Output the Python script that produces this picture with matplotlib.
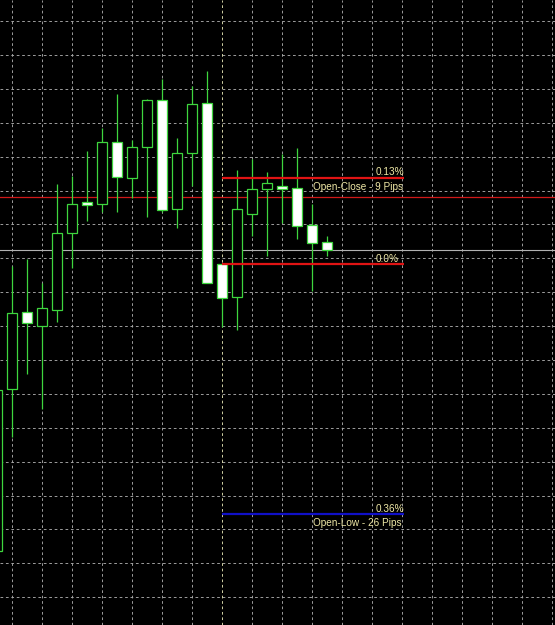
import numpy as np
import matplotlib
matplotlib.use("Agg")
import matplotlib.pyplot as plt

# OHLC, oldest first (first candle is cut by the left edge)
opens = [0.71701, 0.71870, 0.71950, 0.71936, 0.71952, 0.72033, 0.72065, 0.72063,
         0.72127, 0.72090, 0.72122, 0.72171, 0.72058, 0.72116, 0.72168, 0.72000,
         0.71966, 0.72052, 0.72078, 0.72082, 0.72080, 0.72041, 0.72023]
highs = [0.71874, 0.71998, 0.72006, 0.71980, 0.72084, 0.72092, 0.72118, 0.72142,
         0.72178, 0.72130, 0.72172, 0.72193, 0.72132, 0.72186, 0.72202, 0.72001,
         0.72098, 0.72110, 0.72096, 0.72115, 0.72121, 0.72063, 0.72029]
lows = [0.71696, 0.71820, 0.71886, 0.71849, 0.71940, 0.71996, 0.72045, 0.72055,
        0.72055, 0.72069, 0.72049, 0.72054, 0.72038, 0.72082, 0.71980, 0.71935,
        0.71931, 0.72029, 0.72009, 0.72043, 0.72026, 0.71972, 0.72009]
closes = [0.71869, 0.71949, 0.71939, 0.71954, 0.72033, 0.72063, 0.72062, 0.72127,
          0.72091, 0.72122, 0.72171, 0.72057, 0.72116, 0.72167, 0.71981, 0.71965,
          0.72058, 0.72078, 0.72085, 0.72078, 0.72040, 0.72022, 0.72015]

day_start = 15            # index of the first candle of the day
day_open = 0.72000
oc_pips = 9
ol_pips = 26
pip = 0.0001
red_line = 0.72070
pct_labels = ["0.13%", "0.0%", "0.36%"]
oc_text = "Open-Close - 9 Pips"
ol_text = "Open-Low - 26 Pips"

GREEN = "#3ed63e"
TXT = "#efe8a6"

fig = plt.figure(figsize=(5.55, 6.25), dpi=100)
fig.patch.set_facecolor("black")
ax = fig.add_axes([0, 0, 1, 1])
ax.set_facecolor("black")

y_top, y_bot = 0.722755, 0.716240
ax.set_ylim(y_bot, y_top)
ax.set_xlim(0.22, 37.22)

# grid, like the terminal's dotted grid
rng = y_top - y_bot
gy = y_top - rng * (21 + 33.9 * np.arange(18)) / 625
for g in gy:
    ax.axhline(g, color="#a8a8a8", lw=0.65, ls=(0, (3, 3)), zorder=0)
for gx in range(1, 38, 2):
    c = "#e0e0b0" if gx == day_start else "#a8a8a8"
    ax.axvline(gx, color=c, lw=0.65, ls=(0, (3, 3)), zorder=0)

# full width horizontal lines
ax.axhline(red_line, color="#d01818", lw=0.9, zorder=1)
ax.axhline(closes[-1], color="#b0b0b0", lw=0.8, zorder=1)

# candles
x = np.arange(len(opens))
o = np.array(opens); c = np.array(closes)
ax.vlines(x, lows, highs, color=GREEN, lw=0.9, zorder=2)
bull = c >= o
bottom = np.minimum(o, c)
height = np.maximum(np.abs(c - o), 0.000025)
ax.bar(x[bull], height[bull], bottom=bottom[bull], width=0.66,
       facecolor="black", edgecolor=GREEN, linewidth=0.9, zorder=3)
ax.bar(x[~bull], height[~bull], bottom=bottom[~bull], width=0.66,
       facecolor="white", edgecolor=GREEN, linewidth=0.9, zorder=3)

# open/close/low levels of the day
x0, x1 = day_start, 27.15
lv_oc = day_open + oc_pips * pip
lv_ol = day_open - ol_pips * pip
ax.hlines([lv_oc, day_open], x0, x1, color="#e01414", lw=1.6, zorder=4)
ax.hlines(lv_ol, x0, x1, color="#1010c8", lw=1.6, zorder=4)

fnt = dict(family=["Liberation Sans", "DejaVu Sans"], fontsize=7.2, color=TXT, zorder=5)
xp, xd = 25.29, 21.09     # left edges of the percent and description labels
ax.annotate(pct_labels[0], (xp, lv_oc), xytext=(0, 1), textcoords="offset points",
            ha="left", va="bottom", **fnt)
ax.annotate(oc_text, (xd, lv_oc), xytext=(0, -3), textcoords="offset points",
            ha="left", va="top", **fnt)
ax.annotate(pct_labels[1], (xp, day_open), xytext=(0, 0), textcoords="offset points",
            ha="left", va="bottom", **fnt)
ax.annotate(pct_labels[2], (xp, lv_ol), xytext=(0, 0), textcoords="offset points",
            ha="left", va="bottom", **fnt)
ax.annotate(ol_text, (xd, lv_ol), xytext=(0, -3), textcoords="offset points",
            ha="left", va="top", **fnt)

ax.set_xticks([]); ax.set_yticks([])
for s in ax.spines.values():
    s.set_visible(False)

fig.savefig("out.png", dpi=100, facecolor="black")
